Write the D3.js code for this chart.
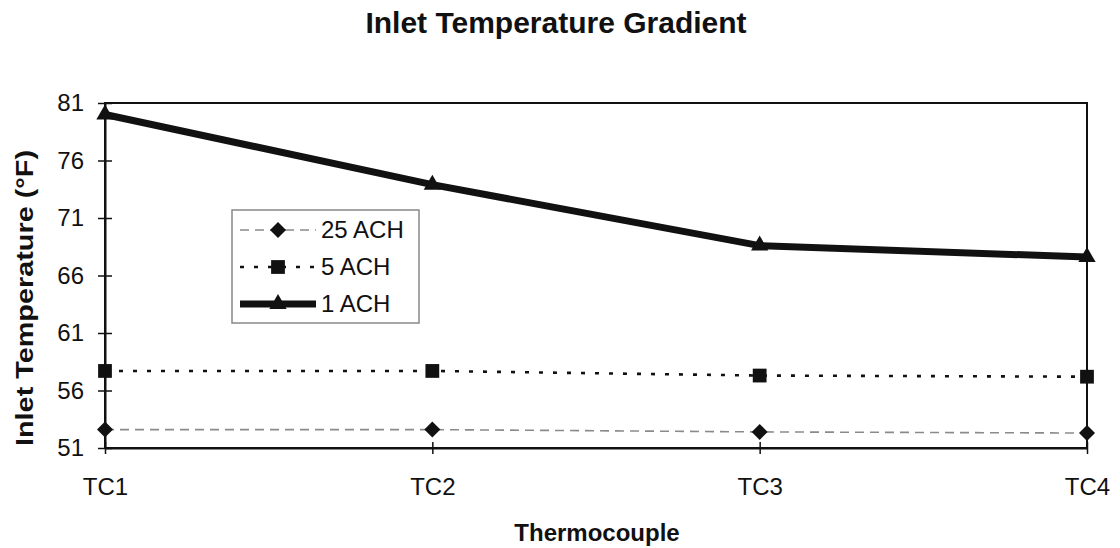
<!DOCTYPE html>
<html>
<head>
<meta charset="utf-8">
<script src="https://cdn.jsdelivr.net/npm/d3@7"></script>
<style>
  html, body { margin: 0; padding: 0; background: #fff; }
  svg { display: block; font-family: "Liberation Sans", Arial, sans-serif; }
</style>
</head>
<body>
<svg id="chart" width="1120" height="548"></svg>
<script>
// Thermocouple positions along the inlet
const categories = ["TC1", "TC2", "TC3", "TC4"];

// Inlet temperatures (°F) for each air-change rate
const ach25 = [52.6, 52.6, 52.4, 52.3];
const ach5  = [57.7, 57.7, 57.3, 57.2];
const ach1  = [80.0, 73.9, 68.6, 67.6];

const seriesNames = ["25 ACH", "5 ACH", "1 ACH"];
const yTicks = [51, 56, 61, 66, 71, 76, 81];

// Diamond drawn as a square turned 45 degrees
const series = [
  { name: seriesNames[0], values: ach25, stroke: "#8a8a8a", width: 1.6, dash: "9,6",  symbol: d3.symbolSquare,   size: 128, rotate: 45 },
  { name: seriesNames[1], values: ach5,  stroke: "#111",    width: 2.6, dash: "4,10", symbol: d3.symbolSquare,   size: 190, rotate: 0 },
  { name: seriesNames[2], values: ach1,  stroke: "#111",    width: 7,   dash: null,   symbol: d3.symbolTriangle, size: 130, rotate: 0 }
];

const svg = d3.select("#chart");
const plot = { left: 105, right: 1087, top: 103, bottom: 448 };

const x = d3.scalePoint().domain(categories).range([plot.left, plot.right]).padding(0);
const y = d3.scaleLinear().domain([51, 81]).range([plot.bottom, plot.top]);

// Plot area frame
svg.append("rect")
  .attr("x", plot.left).attr("y", plot.top)
  .attr("width", plot.right - plot.left).attr("height", plot.bottom - plot.top)
  .attr("fill", "#fff").attr("stroke", "#111").attr("stroke-width", 2);

// Y axis with crossing ticks
const yAxis = d3.axisLeft(y).tickValues(yTicks).tickSize(0).tickPadding(21);
const gy = svg.append("g").attr("transform", `translate(${plot.left},0)`).call(yAxis);
gy.select(".domain").attr("stroke", "#111").attr("stroke-width", 2);
gy.selectAll(".tick text").attr("font-size", 24).attr("fill", "#111");
gy.selectAll(".tick").append("line")
  .attr("x1", -7).attr("x2", 7).attr("stroke", "#111").attr("stroke-width", 1.5);

// X axis with category labels
const xAxis = d3.axisBottom(x).tickSize(0).tickPadding(30);
const gx = svg.append("g").attr("transform", `translate(0,${plot.bottom})`).call(xAxis);
gx.select(".domain").attr("stroke", "#111").attr("stroke-width", 2);
gx.selectAll(".tick text").attr("font-size", 24).attr("fill", "#111");
gx.selectAll(".tick").append("line")
  .attr("y1", -6).attr("y2", 6).attr("stroke", "#111").attr("stroke-width", 1.5);

// Series lines and markers
const line = d3.line().x((d, i) => x(categories[i])).y(d => y(d));
series.forEach(s => {
  svg.append("path")
    .datum(s.values)
    .attr("d", line)
    .attr("fill", "none")
    .attr("stroke", s.stroke)
    .attr("stroke-width", s.width)
    .attr("stroke-dasharray", s.dash);
  svg.append("g").selectAll("path")
    .data(s.values)
    .join("path")
    .attr("transform", (d, i) => `translate(${x(categories[i])},${y(d)}) rotate(${s.rotate})`)
    .attr("d", d3.symbol().type(s.symbol).size(s.size))
    .attr("fill", "#111");
});

// Titles
svg.append("text")
  .attr("x", 556).attr("y", 33)
  .attr("text-anchor", "middle")
  .attr("font-size", 30).attr("font-weight", "bold").attr("fill", "#111")
  .text("Inlet Temperature Gradient");

svg.append("text")
  .attr("x", 597).attr("y", 541)
  .attr("text-anchor", "middle")
  .attr("font-size", 24).attr("font-weight", "bold").attr("fill", "#111")
  .text("Thermocouple");

svg.append("text")
  .attr("transform", "translate(33,298) rotate(-90)")
  .attr("text-anchor", "middle")
  .attr("font-size", 24).attr("font-weight", "bold").attr("fill", "#111")
  .attr("textLength", 296).attr("lengthAdjust", "spacingAndGlyphs")
  .text("Inlet Temperature (°F)");

// Legend
const legend = svg.append("g").attr("transform", "translate(232,210)");
legend.append("rect")
  .attr("width", 187).attr("height", 113)
  .attr("fill", "#fff").attr("stroke", "#888").attr("stroke-width", 1.5);
series.forEach((s, i) => {
  const cy = 20 + i * 37;
  const row = legend.append("g").attr("transform", `translate(0,${cy})`);
  row.append("line")
    .attr("x1", 8).attr("x2", 84).attr("y1", 0).attr("y2", 0)
    .attr("stroke", s.stroke).attr("stroke-width", s.width)
    .attr("stroke-dasharray", s.dash);
  row.append("path")
    .attr("transform", `translate(46,0) rotate(${s.rotate})`)
    .attr("d", d3.symbol().type(s.symbol).size(s.size))
    .attr("fill", "#111");
  row.append("text")
    .attr("x", 89).attr("y", 0).attr("dy", "0.35em")
    .attr("font-size", 24).attr("fill", "#111")
    .text(s.name);
});
</script>
</body>
</html>
